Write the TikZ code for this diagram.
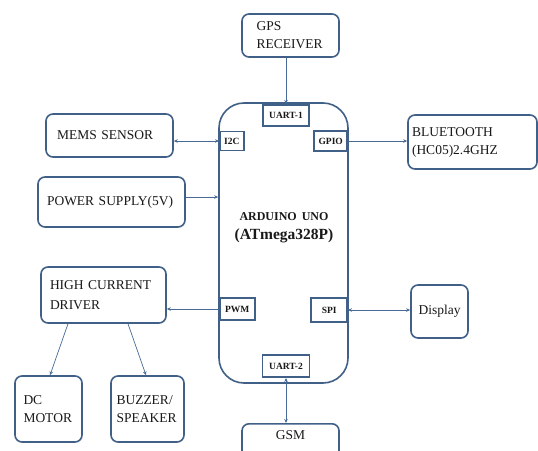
\documentclass[tikz,border=0pt]{standalone}
\usepackage{fontspec}
\setmainfont{Liberation Serif}
\usepackage{tikz}
\usetikzlibrary{arrows.meta,positioning}
\usepackage{xcolor}
\definecolor{edge}{RGB}{64,96,136}
\definecolor{wire}{RGB}{72,106,150}
\definecolor{ink}{RGB}{25,25,25}
\tikzset{
  unit/.style={draw=edge,line width=1.6pt,rounded corners=7pt,fill=white,
    text=ink,font=\fontsize{13.5}{18}\selectfont,align=left,inner sep=0pt},
  mcu/.style={draw=edge,line width=1.6pt,rounded corners=25pt,fill=white},
  port/.style={draw=edge,line width=1.6pt,fill=white,text=ink,inner sep=0pt,
    font=\bfseries\fontsize{9.5}{11}\selectfont},
  title/.style={text=ink,align=center,font=\bfseries},
  arr/.style={-{Stealth[length=4pt,width=3.5pt]},line width=0.7pt,wire},
  both/.style={{Stealth[length=4pt,width=3.5pt]}-{Stealth[length=4pt,width=3.5pt]},
    line width=0.7pt,wire},
}
\begin{document}
\begin{tikzpicture}[x=1pt,y=-1pt]
  \useasboundingbox (0,0) rectangle (538,450);
  \clip (0,0) rectangle (538,450);
  % controller with its ports
  \node[mcu,minimum width=129pt,minimum height=280pt] (mcu) at (283.5,243) {};
  \node[title] (name) at (284,228)
    {\fontsize{12}{14}\selectfont ARDUINO\hspace{5pt}UNO\\[7pt]
     \fontsize{15.5}{18}\selectfont (ATmega328P)};
  \node[port,minimum width=46pt,minimum height=21pt,anchor=north] (uart1) at (286,104) {UART-1};
  \node[port,minimum width=24pt,minimum height=19pt,anchor=west] (i2c) at (219,141) {I2C};
  \node[port,minimum width=33pt,minimum height=20pt,anchor=east] (gpio) at (348,141) {GPIO};
  \node[port,minimum width=35pt,minimum height=22pt,anchor=west] (pwm) at (219,309) {PWM};
  \node[port,minimum width=36pt,minimum height=24pt,anchor=east] (spi) at (348,310) {SPI};
  \node[port,minimum width=47pt,minimum height=22pt,anchor=south] (uart2) at (286,378) {UART-2};
  % peripherals
  \node[unit,minimum width=97pt,minimum height=43pt,text width=68pt] (gps) at (290.5,35.5) {GPS\\RECEIVER};
  \node[unit,minimum width=127pt,minimum height=43pt,text width=105pt] (mems) at (109.5,135.5) {MEMS SENSOR};
  \node[unit,minimum width=147pt,minimum height=50pt,text width=129pt] (power) at (111.5,202) {POWER SUPPLY(5V)};
  \node[unit,minimum width=125pt,minimum height=56pt,text width=107pt] (driver) at (103.5,295) {HIGH CURRENT\\[2pt]DRIVER};
  \node[unit,minimum width=67pt,minimum height=66pt,text width=50pt] (motor) at (48.5,409) {DC\\MOTOR};
  \node[unit,minimum width=73pt,minimum height=66pt,text width=62pt] (buzzer) at (147.5,409) {BUZZER/\\SPEAKER};
  \node[unit,minimum width=129pt,minimum height=54pt,text width=121pt] (bt) at (472.5,142) {BLUETOOTH\\(HC05)2.4GHZ};
  \node[unit,minimum width=57pt,minimum height=53pt,align=center] (disp) at (439.5,311.5) {Display};
  \node[unit,minimum width=97pt,align=center,inner ysep=5pt,text height=11pt,text depth=30pt,
    anchor=north] (gsm) at (290.5,423) {GSM};
  % links
  \draw[arr] (gps.south -| uart1.north) -- (uart1.north);
  \draw[both] (mems.east |- i2c.west) -- (i2c.west);
  \draw[arr] ([yshift=5pt]power.east) -- ([yshift=5pt]power.east -| mcu.west);
  \draw[arr] (gpio.east) -- (gpio.east -| bt.west);
  \draw[arr] (pwm.west) -- (pwm.west -| driver.east);
  \draw[both] (spi.east) -- (spi.east -| disp.west);
  \draw[both] (uart2.south) -- (uart2.south |- gsm.north);
  \draw[arr] ([xshift=-35.5pt]driver.south) -- ([xshift=1.5pt]motor.north);
  \draw[arr] ([xshift=24.5pt]driver.south) -- ([xshift=-1.5pt]buzzer.north);
\end{tikzpicture}
\end{document}
